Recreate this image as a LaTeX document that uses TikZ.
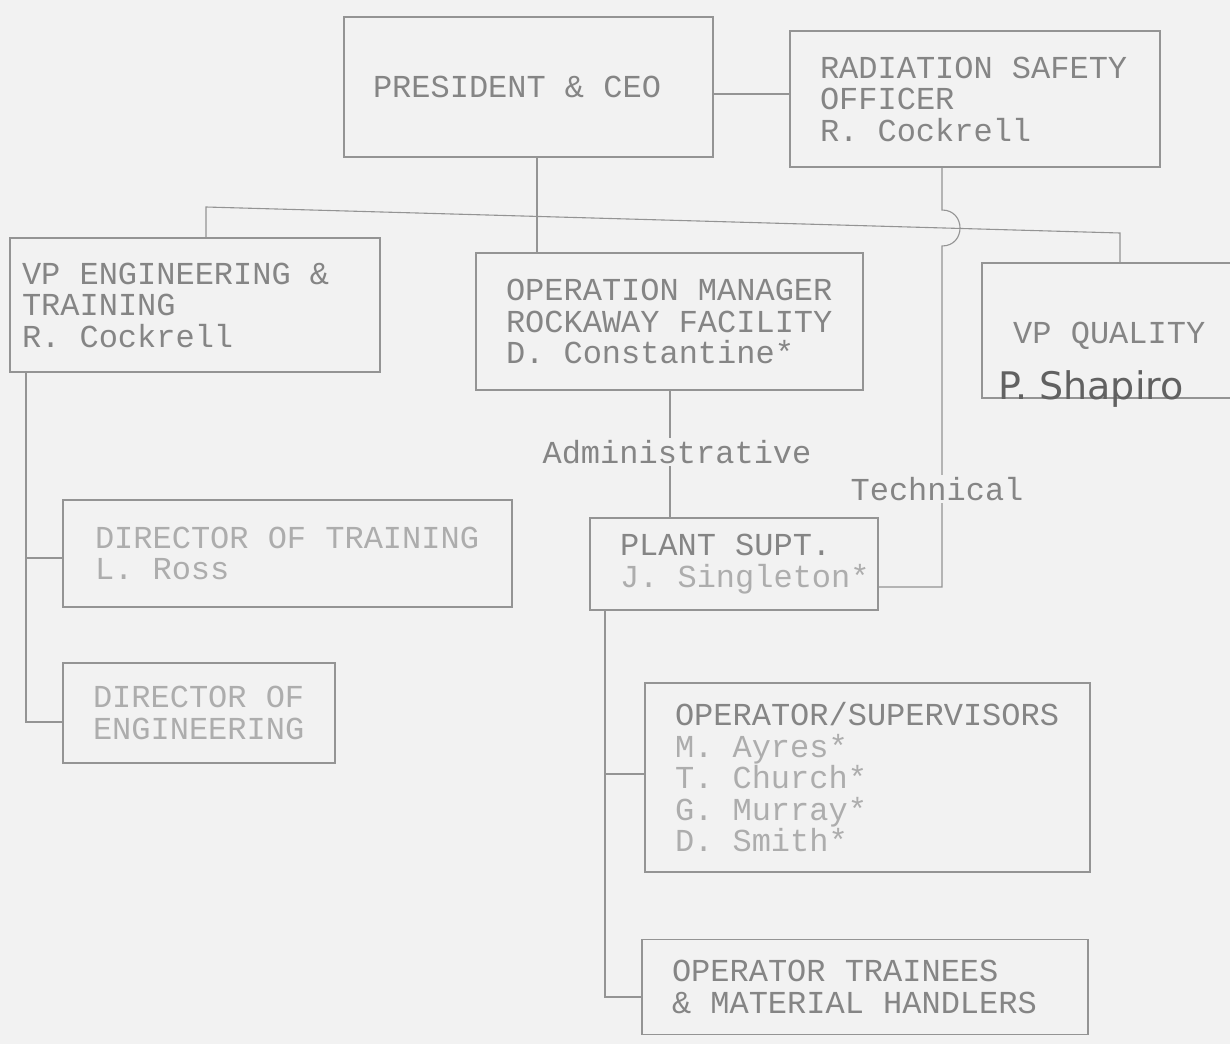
\documentclass[tikz,border=0pt]{standalone}
\usepackage{fontspec}
\setmonofont{Liberation Mono}
\newfontfamily\handfont{DejaVu Sans}
\definecolor{paper}{gray}{0.95}
\definecolor{ink}{gray}{0.52}
\definecolor{faint}{gray}{0.68}
\definecolor{rulec}{gray}{0.58}
\newcommand\tyfont{\ttfamily\fontsize{32}{31.5}\selectfont}
\begin{document}
\begin{tikzpicture}[x=1pt,y=-1pt,
  font=\tyfont,
  box/.style={draw=rulec, line width=1.1pt, inner xsep=0pt, inner ysep=0pt, text=ink, align=left,
    execute at begin node={\spaceskip=19.2pt\xspaceskip=19.2pt\relax}},
  fbox/.style={box, text=faint},
  conn/.style={draw=rulec, line width=1.1pt},
  lbl/.style={fill=paper, inner sep=2pt, text=ink}
]
\fill[paper] (0,0) rectangle (1230,1044);
\useasboundingbox (0,0) rectangle (1230,1044);
\clip (0,0) rectangle (1230,1044);

% boxes
\node[box, minimum width=369pt, minimum height=140pt, text width=311pt] (pres) at (528.5,87) {PRESIDENT \& CEO};
\node[box, minimum width=370pt, minimum height=136pt, text width=310pt] (rso) at (975,99) {\mbox{RADIATION SAFETY}\\OFFICER\\R. Cockrell};
\node[box, minimum width=370pt, minimum height=134pt, text width=346pt] (vpeng) at (195,305) {VP ENGINEERING \&\\TRAINING\\R. Cockrell};
\node[box, minimum width=387pt, minimum height=137pt, text width=327pt] (ops) at (669.5,321.5) {OPERATION MANAGER\\ROCKAWAY FACILITY\\D. Constantine*};
\node[box, minimum width=258pt, minimum height=135pt] (vpq) at (1111,330.5) {};
\node[text=ink, anchor=base west, inner sep=0pt] (vpqt) at (1013,343) {VP QUALITY};
\node[text=black!62, anchor=base west, inner sep=0pt, font=\handfont\fontsize{38}{40}\selectfont] (vpqn) at (998,399) {P. Shapiro};

\node[box, minimum width=288pt, minimum height=92pt, text width=228pt] (plant) at (734,564) {PLANT SUPT.\\{\color{faint}\mbox{J. Singleton*}}};
\node[fbox, minimum width=449pt, minimum height=107pt, text width=385pt] (dirtr) at (287.5,553.5) {\mbox{DIRECTOR OF TRAINING}\\L. Ross};
\node[fbox, minimum width=272pt, minimum height=100pt, text width=212pt] (direng) at (199,713) {DIRECTOR OF\\\mbox{ENGINEERING}};
\node[fbox, minimum width=445pt, minimum height=189pt, text width=385pt] (opsup) at (867.5,777.5) {{\color{ink}\mbox{OPERATOR/SUPERVISORS}}\\M. Ayres*\\T. Church*\\G. Murray*\\D. Smith*};
\node[box, minimum width=446pt, minimum height=95pt, text width=386pt] (train) at (865,987) {OPERATOR TRAINEES\\\& MATERIAL HANDLERS};

% connectors
\draw[conn] (pres.east |- 0,94) -- (rso.west |- 0,94);
\draw[conn] (pres.south -| 537,0) -- (ops.north -| 537,0);

\coordinate (busL) at (206,207);
\coordinate (busR) at (1120,233);
\draw[conn] (vpeng.north -| busL) -- (busL) -- (busR) -- (vpq.north -| busR);

\coordinate (hopT) at (942,210);
\coordinate (hopB) at (942,246);
\coordinate (techC) at (942,587);
\draw[conn] (rso.south -| hopT) -- (hopT) .. controls (966,210) and (966,246) .. (hopB) -- (techC) -- (plant.east |- techC);

\draw[conn] (ops.south -| 670,0) -- (plant.north -| 670,0);

\coordinate (engV) at (26,722);
\draw[conn] (vpeng.south -| engV) -- (engV) -- (direng.west |- engV);
\draw[conn] (26,558) -- (dirtr.west |- 0,558);

\coordinate (opV) at (605,997);
\draw[conn] (plant.south -| opV) -- (opV) -- (train.west |- opV);
\draw[conn] (605,774) -- (opsup.west |- 0,774);

% labels
\node[lbl] (admin) at (677,452) {Administrative};
\node[lbl] (tech) at (937,489) {Technical};
\end{tikzpicture}
\end{document}
